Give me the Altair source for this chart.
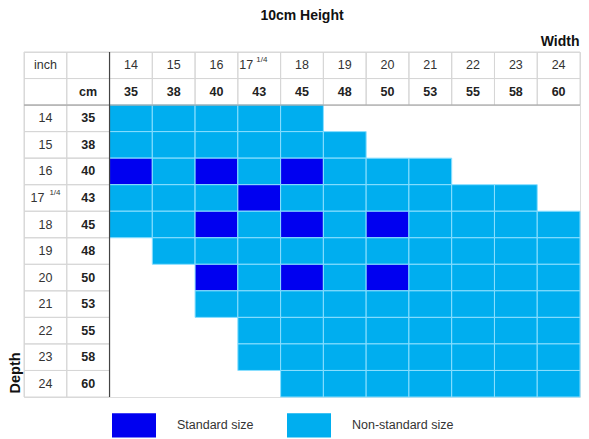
import altair as alt
import pandas as pd

# ---------------- data ----------------
chart_title = "10cm Height"
width_axis_title = "Width"
depth_axis_title = "Depth"
inch_label = "inch"
cm_label = "cm"

width_inch = ["14", "15", "16", "17", "18", "19", "20", "21", "22", "23", "24"]
width_frac = ["", "", "", "1/4", "", "", "", "", "", "", ""]
width_cm = ["35", "38", "40", "43", "45", "48", "50", "53", "55", "58", "60"]

depth_inch = ["14", "15", "16", "17", "18", "19", "20", "21", "22", "23", "24"]
depth_frac = ["", "", "", "1/4", "", "", "", "", "", "", ""]
depth_cm = ["35", "38", "40", "43", "45", "48", "50", "53", "55", "58", "60"]

# one string per depth row, one character per width column
# S = standard size, N = non-standard size, . = not available
availability = [
    "NNNNN......",
    "NNNNNN.....",
    "SNSNSNNN...",
    "NNNSNNNNNN.",
    "NNSNSNSNNNN",
    ".NNNNNNNNNN",
    "..SNSNSNNNN",
    "..NNNNNNNNN",
    "...NNNNNNNN",
    "...NNNNNNNN",
    "....NNNNNNN",
]

type_codes = ["S", "N"]
type_names = ["Standard size", "Non-standard size"]
type_colors = ["#0000F0", "#00AEEF"]

# ---------------- tables built from the arrays ----------------
INCH_COL, CM_COL = "inch_col", "cm_col"
INCH_ROW, CM_ROW = "inch_row", "cm_row"
x_domain = [INCH_COL, CM_COL] + width_cm
y_domain = [INCH_ROW, CM_ROW] + depth_cm

frame_cells = pd.DataFrame(
    [{"col": c, "row": r} for c in x_domain for r in y_domain
     if c in (INCH_COL, CM_COL) or r in (INCH_ROW, CM_ROW)]
)

fill_rows = []
for j, line in enumerate(availability):
    for i, ch in enumerate(line):
        if ch in type_codes:
            fill_rows.append({"col": width_cm[i], "row": depth_cm[j],
                              "type": type_names[type_codes.index(ch)]})
fill_cells = pd.DataFrame(fill_rows)

normal_txt, bold_txt, hdr_frac, row_frac = [], [], [], []
normal_txt.append({"col": INCH_COL, "row": INCH_ROW, "text": inch_label})
bold_txt.append({"col": CM_COL, "row": CM_ROW, "text": cm_label})
for i in range(len(width_cm)):
    if width_frac[i]:
        hdr_frac.append({"col": width_cm[i], "row": INCH_ROW, "text": width_inch[i], "frac": width_frac[i]})
    else:
        normal_txt.append({"col": width_cm[i], "row": INCH_ROW, "text": width_inch[i]})
    bold_txt.append({"col": width_cm[i], "row": CM_ROW, "text": width_cm[i]})
for j in range(len(depth_cm)):
    if depth_frac[j]:
        row_frac.append({"col": INCH_COL, "row": depth_cm[j], "text": depth_inch[j], "frac": depth_frac[j]})
    else:
        normal_txt.append({"col": INCH_COL, "row": depth_cm[j], "text": depth_inch[j]})
    bold_txt.append({"col": CM_COL, "row": depth_cm[j], "text": depth_cm[j]})
normal_txt = pd.DataFrame(normal_txt)
bold_txt = pd.DataFrame(bold_txt)
hdr_frac = pd.DataFrame(hdr_frac)
row_frac = pd.DataFrame(row_frac)

# ---------------- layout ----------------
W, H = 556, 345
FONT = "Liberation Sans, Arial, Helvetica, sans-serif"


def X(**kw):
    return alt.X(
        "col:N",
        scale=alt.Scale(domain=x_domain, paddingInner=0, paddingOuter=0),
        axis=alt.Axis(orient="top", labels=False, ticks=False, domain=False, grid=False,
                      title=width_axis_title, titleFont=FONT, titleFontSize=14,
                      titleFontWeight="bold", titleColor="#111", titleAlign="right",
                      titleBaseline="alphabetic", titleX=W - 1, titleY=-7),
        **kw,
    )


def Y(**kw):
    return alt.Y(
        "row:N",
        scale=alt.Scale(domain=y_domain, paddingInner=0, paddingOuter=0),
        axis=alt.Axis(orient="left", labels=False, ticks=False, domain=False, grid=False,
                      title=depth_axis_title, titleFont=FONT, titleFontSize=14.5,
                      titleFontWeight="bold", titleColor="#111", titleAngle=270,
                      titleAlign="left", titleBaseline="alphabetic", titleX=-5, titleY=H - 4),
        **kw,
    )


frame_layer = alt.Chart(frame_cells).mark_rect(
    filled=False, stroke="#D6D6D6", strokeWidth=1
).encode(x=X(), y=Y())

fill_layer = alt.Chart(fill_cells).mark_rect(
    stroke="#8ADFFF", strokeWidth=1
).encode(
    x=X(), y=Y(),
    color=alt.Color(
        "type:N",
        title=None,
        scale=alt.Scale(domain=type_names, range=type_colors),
        legend=alt.Legend(
            orient="none", legendX=88, legendY=351, direction="horizontal", columns=2,
            symbolType="M-1,-0.55H1V0.55H-1Z", symbolSize=1936, symbolStrokeWidth=0,
            symbolOpacity=1, labelFont=FONT, labelFontSize=12.5, labelColor="#333",
            labelOffset=21, columnPadding=33, padding=0,
        ),
    ),
)

hdr_rule = alt.Chart(pd.DataFrame({"row": [depth_cm[0]]})).mark_rule(
    color="#9A9A9A", strokeWidth=1
).encode(y=Y(bandPosition=0))

col_rule = alt.Chart(pd.DataFrame({"col": [width_cm[0]]})).mark_rule(
    color="#444444", strokeWidth=1.2
).encode(x=X(bandPosition=0))

normal_layer = alt.Chart(normal_txt).mark_text(
    font=FONT, fontSize=12.5, color="#333", baseline="middle", align="center"
).encode(x=X(), y=Y(), text="text:N")

bold_layer = alt.Chart(bold_txt).mark_text(
    font=FONT, fontSize=12.5, fontWeight="bold", color="#222", baseline="middle", align="center"
).encode(x=X(), y=Y(), text="text:N")

hdr_main = alt.Chart(hdr_frac).mark_text(
    font=FONT, fontSize=12.5, color="#333", baseline="middle", align="right", dx=-6
).encode(x=X(), y=Y(), text="text:N")
hdr_sup = alt.Chart(hdr_frac).mark_text(
    font=FONT, fontSize=8, color="#333", baseline="middle", align="left", dx=-3, dy=-5
).encode(x=X(), y=Y(), text="frac:N")

row_main = alt.Chart(row_frac).mark_text(
    font=FONT, fontSize=12.5, color="#333", baseline="middle", align="right", dx=-1
).encode(x=X(), y=Y(), text="text:N")
row_sup = alt.Chart(row_frac).mark_text(
    font=FONT, fontSize=8, color="#333", baseline="middle", align="left", dx=4, dy=-5
).encode(x=X(), y=Y(), text="frac:N")

chart = alt.layer(
    frame_layer, fill_layer, hdr_rule, col_rule,
    normal_layer, bold_layer, hdr_main, hdr_sup, row_main, row_sup,
).properties(
    width=W, height=H,
    title=alt.TitleParams(chart_title, font=FONT, fontSize=14, fontWeight="bold",
                          color="#111", anchor="middle", frame="group",
                          baseline="alphabetic", offset=14, dy=14),
    autosize=alt.AutoSizeParams(type="none"),
    padding={"left": 16, "top": 44, "right": 1, "bottom": 42},
).configure_view(
    stroke="#333333", strokeWidth=2
).configure(background="white")

chart.save("out.html", embed_options={"renderer": "svg", "actions": False})
